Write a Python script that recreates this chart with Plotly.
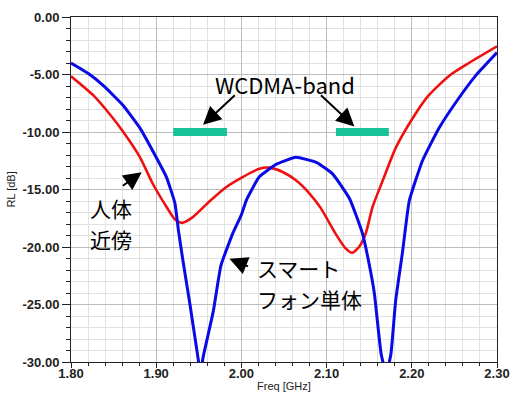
import plotly.graph_objects as go

# ---- data ----
freq_single = [1.80, 1.82, 1.838, 1.861, 1.881, 1.896, 1.912, 1.922, 1.926, 1.931, 1.939, 1.949, 1.952,
               1.955, 1.967, 1.976, 1.990, 2.000, 2.006, 2.021, 2.041, 2.064, 2.088, 2.107, 2.127,
               2.142, 2.150, 2.156, 2.164, 2.170, 2.1755, 2.181, 2.189, 2.197, 2.2125, 2.232, 2.252,
               2.275, 2.30]
rl_single = [-4.0, -4.9, -5.97, -7.67, -9.66, -11.65, -13.92, -16.2, -18.5, -21.0, -24.7, -29.6, -31.0,
             -29.6, -25.6, -21.6, -18.8, -17.2, -15.9, -13.9, -12.8, -12.2, -12.65, -13.64, -15.8,
             -18.8, -21.5, -24.0, -29.3, -31.0, -29.3, -24.7, -20.5, -16.0, -12.5, -9.66, -7.39,
             -5.1, -3.1]

freq_body = [1.80, 1.826, 1.846, 1.861, 1.881, 1.896, 1.912, 1.922, 1.930, 1.943, 1.963, 1.982, 2.002,
             2.021, 2.033, 2.049, 2.064, 2.080, 2.093, 2.111, 2.122, 2.130, 2.138, 2.146, 2.154,
             2.166, 2.181, 2.201, 2.220, 2.244, 2.267, 2.30]
rl_body = [-5.15, -6.8, -8.5, -9.95, -12.2, -14.5, -16.5, -17.6, -17.9, -17.4, -16.0, -14.8, -13.9,
           -13.2, -13.1, -13.5, -14.2, -15.35, -16.6, -18.9, -20.1, -20.5, -20.0, -18.8, -16.5,
           -14.2, -11.4, -8.8, -6.8, -5.1, -4.0, -2.55]

wcdma_bands = [(1.92, 1.983), (2.111, 2.173)]
band_level = -10.0

y_tick_vals = [0, -5, -10, -15, -20, -25, -30]
y_tick_text = ["0.00", "-5.00", "-10.00", "-15.00", "-20.00", "-25.00", "-30.00"]

fig = go.Figure()
fig.add_trace(go.Scatter(x=freq_body, y=rl_body, mode="lines",
                         line=dict(color="#f01010", width=2.6, shape="spline", smoothing=0.6),
                         showlegend=False))
fig.add_trace(go.Scatter(x=freq_single, y=rl_single, mode="lines",
                         line=dict(color="#0a0ae6", width=3, shape="spline", smoothing=0.4),
                         showlegend=False))

for b0, b1 in wcdma_bands:
    fig.add_shape(type="rect", xref="x", yref="y", x0=b0, x1=b1,
                  y0=band_level + 0.35, y1=band_level - 0.35,
                  fillcolor="#17c397", line=dict(width=0))

jp = "Noto Sans CJK JP"
fig.add_annotation(x=2.0506, y=-5.8, text="WCDMA-band", showarrow=False,
                   font=dict(family=jp, size=22, color="#000"))
# arrows
arrows = [((1.994, -6.68), (1.955, -9.38)),
          ((2.0916, -6.68), (2.1326, -9.52)),
          ((1.859, -14.77), (1.883, -13.5)),
          ((2.0096, -21.74), (1.986, -21.03))]
for (tx, ty), (hx, hy) in arrows:
    fig.add_annotation(x=hx, y=hy, ax=tx, ay=ty, axref="x", ayref="y", text="",
                       showarrow=True, arrowhead=2, arrowsize=1.8, arrowwidth=2,
                       arrowcolor="#000")
jfont = dict(family=jp, size=21, color="#000")
fig.add_annotation(x=1.8468, y=-16.62, text="人体", showarrow=False, xanchor="center", font=jfont)
fig.add_annotation(x=1.8468, y=-19.3, text="近傍", showarrow=False, xanchor="center", font=jfont)
fig.add_annotation(x=2.0155, y=-21.82, text="スマート", showarrow=False, xanchor="left", font=jfont)
fig.add_annotation(x=2.0155, y=-24.5, text="フォン単体", showarrow=False, xanchor="left", font=jfont)

# axis titles
fig.add_annotation(xref="paper", yref="paper", x=-0.143, y=0.5, text="RL [dB]",
                   textangle=-90, showarrow=False, xanchor="center", yanchor="middle",
                   font=dict(family="Liberation Sans, Arial", size=11, color="#222"))
fig.add_annotation(xref="paper", yref="paper", x=0.5, y=-0.071, xanchor="center", yanchor="middle",
                   text="Freq [GHz]", showarrow=False,
                   font=dict(family="Liberation Sans, Arial", size=11, color="#222"))

axis_font = dict(family="Liberation Sans, Arial", size=13, color="#222", weight="bold")
fig.update_xaxes(range=[1.80, 2.30], tickmode="linear", tick0=1.8, dtick=0.1, tickformat=".2f",
                 ticks="outside", ticklen=5, tickcolor="#222", tickwidth=1, ticklabelstandoff=-6,
                 showline=True, linecolor="#222", linewidth=1, mirror=True,
                 showgrid=True, gridcolor="#bdbdbd", gridwidth=1, zeroline=False,
                 tickfont=axis_font,
                 minor=dict(dtick=0.02, tick0=1.8, ticks="outside", ticklen=3, tickcolor="#222",
                            showgrid=True, gridcolor="#e2e2e2", gridwidth=1))
fig.update_yaxes(range=[-30, 0], tickvals=y_tick_vals, ticktext=y_tick_text,
                 ticks="outside", ticklen=8, tickcolor="#222", tickwidth=1,
                 showline=True, linecolor="#222", linewidth=1, mirror=True,
                 showgrid=True, gridcolor="#bdbdbd", gridwidth=1, zeroline=False,
                 tickfont=axis_font,
                 minor=dict(dtick=1, tick0=0, ticks="outside", ticklen=4, tickcolor="#222",
                            showgrid=True, gridcolor="#e2e2e2", gridwidth=1))

fig.update_layout(width=520, height=397, margin=dict(l=71, r=22, t=10, b=35),
                  paper_bgcolor="white", plot_bgcolor="white",
                  font=dict(family="Liberation Sans, Arial"))
fig.write_html("out.html", config={"displayModeBar": False},
               post_script="document.body.style.margin='0px';")
